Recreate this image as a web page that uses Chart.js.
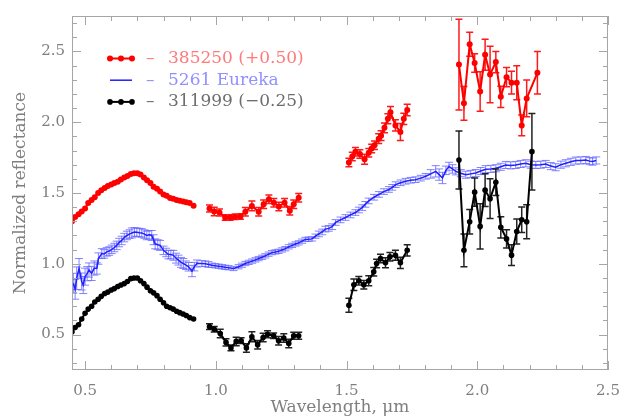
<!DOCTYPE html>
<html>
<head>
<meta charset="utf-8">
<script src="https://cdn.jsdelivr.net/npm/chart.js@4"></script>
<style>
  html, body { margin: 0; padding: 0; background: #fff; }
</style>
</head>
<body>
<canvas id="spectra" width="632" height="419"></canvas>
<script>
// tick labels
const xTicks = [0.5, 1.0, 1.5, 2.0, 2.5];
const yTicks = [0.5, 1.0, 1.5, 2.0, 2.5];

// 385250 (offset +0.50); null marks the gaps between spectral segments
const wl385250 = [
  0.450, 0.462, 0.475, 0.487, 0.500, 0.512, 0.525, 0.537, 0.550, 0.562,
  0.575, 0.587, 0.600, 0.612, 0.625, 0.637, 0.650, 0.662, 0.675, 0.687,
  0.700, 0.712, 0.725, 0.737, 0.750, 0.762, 0.775, 0.787, 0.800, 0.812,
  0.825, 0.837, 0.850, 0.862, 0.875, 0.887, 0.900, 0.915,
  0.945,
  0.976, 0.994, 1.014, 1.036, 1.055, 1.074, 1.094, 1.113, 1.138, 1.164,
  1.183, 1.203, 1.222, 1.241, 1.263, 1.283, 1.298, 1.317,
  1.410,
  1.509, 1.522, 1.534, 1.551, 1.569, 1.585, 1.596, 1.607, 1.623, 1.632,
  1.645, 1.658, 1.668, 1.687, 1.706, 1.719, 1.732,
  1.830,
  1.930, 1.949, 1.971, 1.990, 2.011, 2.030, 2.049, 2.071, 2.090, 2.112,
  2.131, 2.151, 2.170, 2.189, 2.230
];
const r385250 = [
  1.30, 1.33, 1.35, 1.37, 1.39, 1.43, 1.45, 1.47, 1.50, 1.52,
  1.535, 1.55, 1.56, 1.57, 1.58, 1.595, 1.61, 1.62, 1.635, 1.64,
  1.64, 1.63, 1.61, 1.59, 1.57, 1.545, 1.53, 1.51, 1.49, 1.48,
  1.465, 1.46, 1.45, 1.445, 1.44, 1.435, 1.43, 1.41,
  null,
  1.390, 1.369, 1.362, 1.327, 1.327, 1.332, 1.334, 1.367, 1.409, 1.367,
  1.420, 1.455, 1.432, 1.404, 1.432, 1.374, 1.420, 1.467,
  null,
  1.715, 1.757, 1.792, 1.775, 1.738, 1.785, 1.815, 1.838, 1.884, 1.905,
  1.960, 2.024, 2.070, 1.977, 1.931, 2.024, 2.086,
  null,
  2.407, 2.133, 2.551, 2.418, 2.217, 2.476, 2.337, 2.425, 2.179, 2.318,
  2.279, 2.279, 1.977, 2.168, 2.349
];
const e385250 = [
  0, 0, 0, 0, 0, 0, 0, 0, 0, 0,
  0, 0, 0, 0, 0, 0, 0, 0, 0, 0,
  0, 0, 0, 0, 0, 0, 0, 0, 0, 0,
  0, 0, 0, 0, 0, 0, 0, 0,
  null,
  0.025, 0.03, 0.025, 0.02, 0.02, 0.02, 0.02, 0.03, 0.035, 0.03,
  0.03, 0.03, 0.03, 0.03, 0.03, 0.03, 0.03, 0.03,
  null,
  0.03, 0.03, 0.03, 0.03, 0.035, 0.03, 0.03, 0.03, 0.035, 0.035,
  0.035, 0.035, 0.04, 0.04, 0.06, 0.04, 0.04,
  null,
  0.32, 0.12, 0.085, 0.066, 0.14, 0.11, 0.20, 0.075, 0.075, 0.068,
  0.08, 0.12, 0.073, 0.13, 0.15
];

// 5261 Eureka
const wlEureka = [
  0.455, 0.462, 0.468, 0.477, 0.487, 0.493, 0.500, 0.508, 0.515, 0.525,
  0.535, 0.545, 0.551, 0.564, 0.573, 0.583, 0.592, 0.602, 0.612, 0.621,
  0.630, 0.640, 0.650, 0.660, 0.670, 0.679, 0.689, 0.698, 0.708, 0.717,
  0.727, 0.736, 0.745, 0.755, 0.762, 0.768, 0.778, 0.787, 0.800, 0.810,
  0.819, 0.828, 0.838, 0.848, 0.857, 0.867, 0.876, 0.886, 0.896, 0.909,
  0.918, 0.928, 0.947, 0.960, 0.972, 0.985, 0.998, 1.011, 1.024, 1.036,
  1.049, 1.068, 1.087, 1.100, 1.113, 1.126, 1.139, 1.152, 1.164, 1.177,
  1.189, 1.202, 1.215, 1.228, 1.240, 1.253, 1.266, 1.279, 1.292, 1.305,
  1.317, 1.330, 1.343, 1.355, 1.368, 1.381, 1.394, 1.407, 1.419, 1.432,
  1.445, 1.458, 1.477, 1.496, 1.515, 1.534, 1.547, 1.560, 1.572, 1.585,
  1.605, 1.624, 1.643, 1.662, 1.675, 1.688, 1.707, 1.726, 1.745, 1.764,
  1.784, 1.803, 1.822, 1.841, 1.854, 1.867, 1.880, 1.892, 1.905, 1.918,
  1.937, 1.956, 1.975, 1.994, 2.013, 2.032, 2.052, 2.071, 2.090, 2.109,
  2.128, 2.147, 2.166, 2.186, 2.205, 2.224, 2.243, 2.262, 2.281, 2.300,
  2.320, 2.339, 2.358, 2.377, 2.396, 2.415, 2.430, 2.441, 2.455
];
const rEureka = [
  0.863, 0.820, 0.898, 0.967, 0.875, 0.850, 0.909, 0.930, 0.956, 0.932,
  0.970, 0.967, 1.037, 1.072, 1.070, 1.084, 1.090, 1.102, 1.115, 1.130,
  1.150, 1.165, 1.185, 1.200, 1.210, 1.218, 1.225, 1.223, 1.220, 1.218,
  1.210, 1.200, 1.205, 1.200, 1.170, 1.141, 1.135, 1.130, 1.095, 1.080,
  1.065, 1.065, 1.060, 1.040, 1.026, 1.010, 1.002, 0.990, 0.979, 0.949,
  0.980, 1.002, 1.002, 1.000, 0.995, 0.990, 0.986, 0.983, 0.979, 0.975,
  0.972, 0.967, 0.979, 0.990, 1.002, 1.010, 1.019, 1.028, 1.037, 1.046,
  1.056, 1.068, 1.079, 1.084, 1.088, 1.098, 1.107, 1.120, 1.130, 1.140,
  1.148, 1.160, 1.172, 1.174, 1.176, 1.195, 1.211, 1.225, 1.245, 1.250,
  1.262, 1.292, 1.310, 1.327, 1.345, 1.362, 1.380, 1.397, 1.420, 1.444,
  1.470, 1.490, 1.510, 1.525, 1.540, 1.559, 1.572, 1.583, 1.590, 1.594,
  1.605, 1.618, 1.635, 1.653, 1.630, 1.606, 1.660, 1.687, 1.670, 1.653,
  1.640, 1.629, 1.635, 1.641, 1.655, 1.668, 1.670, 1.675, 1.685, 1.698,
  1.695, 1.698, 1.705, 1.710, 1.700, 1.698, 1.700, 1.705, 1.690, 1.682,
  1.700, 1.710, 1.720, 1.729, 1.730, 1.733, 1.725, 1.722, 1.730
];
const eEureka = [
  0.07, 0.07, 0.08, 0.07, 0.06, 0.06, 0.06, 0.05, 0.05, 0.05,
  0.05, 0.04, 0.04, 0.035, 0.03, 0.03, 0.03, 0.03, 0.03, 0.03,
  0.03, 0.03, 0.03, 0.03, 0.03, 0.035, 0.03, 0.03, 0.03, 0.03,
  0.03, 0.03, 0.03, 0.035, 0.035, 0.035, 0.035, 0.035, 0.03, 0.03,
  0.03, 0.03, 0.035, 0.035, 0.035, 0.035, 0.035, 0.03, 0.03, 0.04,
  0.03, 0.025, 0.02, 0.02, 0.02, 0.015, 0.015, 0.015, 0.015, 0.015,
  0.015, 0.015, 0.015, 0.015, 0.015, 0.015, 0.015, 0.015, 0.015, 0.015,
  0.015, 0.015, 0.015, 0.015, 0.015, 0.015, 0.015, 0.015, 0.015, 0.015,
  0.015, 0.015, 0.015, 0.015, 0.015, 0.015, 0.02, 0.02, 0.02, 0.02,
  0.02, 0.02, 0.02, 0.02, 0.02, 0.02, 0.02, 0.02, 0.02, 0.02,
  0.02, 0.02, 0.02, 0.02, 0.02, 0.02, 0.02, 0.02, 0.02, 0.02,
  0.02, 0.02, 0.03, 0.04, 0.04, 0.04, 0.03, 0.03, 0.03, 0.025,
  0.025, 0.025, 0.025, 0.025, 0.025, 0.025, 0.025, 0.025, 0.025, 0.025,
  0.025, 0.025, 0.025, 0.025, 0.025, 0.025, 0.025, 0.025, 0.025, 0.025,
  0.025, 0.025, 0.025, 0.025, 0.025, 0.025, 0.025, 0.025, 0.025
];

// 311999 (offset -0.25)
const wl311999 = [
  0.450, 0.462, 0.475, 0.487, 0.500, 0.512, 0.525, 0.537, 0.550, 0.562,
  0.575, 0.587, 0.600, 0.612, 0.625, 0.637, 0.650, 0.662, 0.675, 0.687,
  0.700, 0.712, 0.725, 0.737, 0.750, 0.762, 0.775, 0.787, 0.800, 0.812,
  0.825, 0.837, 0.850, 0.862, 0.875, 0.887, 0.900, 0.915,
  0.945,
  0.976, 0.994, 1.017, 1.039, 1.058, 1.078, 1.097, 1.117, 1.138, 1.160,
  1.181, 1.198, 1.221, 1.240, 1.260, 1.279, 1.298, 1.317,
  1.410,
  1.509, 1.528, 1.547, 1.566, 1.585, 1.604, 1.615, 1.630, 1.649, 1.666,
  1.687, 1.706, 1.732,
  1.830,
  1.930, 1.949, 1.971, 1.990, 2.011, 2.030, 2.049, 2.071, 2.090, 2.112,
  2.131, 2.151, 2.170, 2.189, 2.209
];
const r311999 = [
  0.52, 0.55, 0.57, 0.61, 0.65, 0.68, 0.70, 0.73, 0.75, 0.77,
  0.79, 0.80, 0.815, 0.825, 0.84, 0.85, 0.86, 0.875, 0.895, 0.90,
  0.90, 0.88, 0.86, 0.835, 0.81, 0.795, 0.775, 0.75, 0.725, 0.70,
  0.69, 0.68, 0.665, 0.655, 0.645, 0.635, 0.62, 0.61,
  null,
  0.556, 0.538, 0.508, 0.445, 0.406, 0.452, 0.457, 0.406, 0.485, 0.429,
  0.480, 0.503, 0.492, 0.457, 0.476, 0.438, 0.492, 0.492,
  null,
  0.707, 0.852, 0.880, 0.852, 0.880, 0.944, 1.002, 1.037, 1.007, 1.049,
  1.060, 1.007, 1.095,
  null,
  1.733, 1.095, 1.297, 1.506, 1.264, 1.520, 1.460, 1.576, 1.258, 1.176,
  1.061, 1.228, 1.311, 1.297, 1.792
];
const e311999 = [
  0, 0, 0, 0, 0, 0, 0, 0, 0, 0,
  0, 0, 0, 0, 0, 0, 0, 0, 0, 0,
  0, 0, 0, 0, 0, 0, 0, 0, 0, 0,
  0, 0, 0, 0, 0, 0, 0, 0,
  null,
  0.02, 0.02, 0.03, 0.025, 0.02, 0.03, 0.02, 0.03, 0.035, 0.03,
  0.03, 0.025, 0.02, 0.03, 0.03, 0.03, 0.025, 0.025,
  null,
  0.05, 0.04, 0.03, 0.03, 0.035, 0.03, 0.03, 0.03, 0.035, 0.03,
  0.035, 0.04, 0.04,
  null,
  0.205, 0.115, 0.087, 0.10, 0.16, 0.116, 0.14, 0.093, 0.075, 0.064,
  0.073, 0.088, 0.09, 0.12, 0.27
];

const FONT = "'DejaVu Serif', serif";
const GREY = '#7f7f7f';

function toPoints(wl, refl) {
  return wl.map((w, i) => ({ x: w, y: refl[i] }));
}

// vertical error bars with caps, drawn just before each dataset
const errorBars = {
  id: 'errorBars',
  beforeDatasetDraw(chart, args) {
    const ds = chart.data.datasets[args.index];
    if (!ds.errors) return;
    const { ctx, chartArea: a, scales: { x, y } } = chart;
    ctx.save();
    ctx.beginPath();
    ctx.rect(a.left, a.top, a.right - a.left, a.bottom - a.top);
    ctx.clip();
    ctx.strokeStyle = ds.errorColor;
    ctx.lineWidth = ds.errorWidth;
    ctx.beginPath();
    ds.data.forEach((p, i) => {
      const e = ds.errors[i];
      if (p.y == null || !e) return;
      const px = x.getPixelForValue(p.x);
      const y0 = y.getPixelForValue(p.y - e);
      const y1 = y.getPixelForValue(p.y + e);
      const c = ds.capHalf;
      ctx.moveTo(px, y0); ctx.lineTo(px, y1);
      ctx.moveTo(px - c, y0); ctx.lineTo(px + c, y0);
      ctx.moveTo(px - c, y1); ctx.lineTo(px + c, y1);
    });
    ctx.stroke();
    ctx.restore();
  }
};

// box with inward ticks on all four sides
const frame = {
  id: 'frame',
  afterDatasetsDraw(chart) {
    const { ctx, chartArea: a, scales: { x, y } } = chart;
    ctx.save();
    ctx.strokeStyle = '#a6a6a6';
    ctx.lineWidth = 1;
    ctx.strokeRect(a.left + 0.5, a.top + 0.5, a.right - a.left - 1, a.bottom - a.top - 1);
    ctx.beginPath();
    for (let k = 5; k <= 25; k++) {
      const len = k % 5 === 0 ? 9 : 5;
      const px = Math.round(x.getPixelForValue(k / 10)) + 0.5;
      ctx.moveTo(px, a.bottom); ctx.lineTo(px, a.bottom - len);
      ctx.moveTo(px, a.top); ctx.lineTo(px, a.top + len);
    }
    for (let k = 3; k <= 27; k++) {
      const len = k % 5 === 0 ? 9 : 5;
      const py = Math.round(y.getPixelForValue(k / 10)) + 0.5;
      ctx.moveTo(a.left, py); ctx.lineTo(a.left + len, py);
      ctx.moveTo(a.right, py); ctx.lineTo(a.right - len, py);
    }
    ctx.stroke();
    ctx.restore();
  }
};

// legend inside the plot, top left
const insideLegend = {
  id: 'insideLegend',
  afterDraw(chart) {
    const { ctx, chartArea: a } = chart;
    ctx.save();
    ctx.font = '17px ' + FONT;
    ctx.textBaseline = 'middle';
    chart.data.datasets.forEach((ds, i) => {
      const yy = a.top + 42.5 + i * 21.7;
      const x0 = a.left + 38, x1 = a.left + 60;
      ctx.strokeStyle = ds.borderColor;
      ctx.lineWidth = ds.borderWidth;
      ctx.beginPath(); ctx.moveTo(x0, yy); ctx.lineTo(x1, yy); ctx.stroke();
      if (ds.pointRadius > 0) {
        ctx.fillStyle = ds.borderColor;
        [x0, (x0 + x1) / 2, x1].forEach(cx => {
          ctx.beginPath(); ctx.arc(cx, yy, ds.pointRadius, 0, Math.PI * 2); ctx.fill();
        });
      }
      ctx.fillStyle = ds.legendColor;
      ctx.fillText('\u2013', a.left + 74, yy);
      ctx.fillText(ds.label, a.left + 96, yy);
    });
    ctx.restore();
  }
};

const ctx = document.getElementById('spectra').getContext('2d');
new Chart(ctx, {
  type: 'line',
  data: {
    datasets: [
      {
        label: '385250 (+0.50)',
        data: toPoints(wl385250, r385250),
        errors: e385250,
        borderColor: '#ff0000',
        backgroundColor: '#ff0000',
        borderWidth: 2,
        pointRadius: 3,
        pointBorderWidth: 0,
        errorColor: '#ff1a1a',
        errorWidth: 1.5,
        capHalf: 3.5,
        legendColor: '#ff7a7a',
        order: 1
      },
      {
        label: '5261 Eureka',
        data: toPoints(wlEureka, rEureka),
        errors: eEureka,
        borderColor: '#1f1fff',
        backgroundColor: '#1f1fff',
        borderWidth: 1.5,
        pointRadius: 0,
        errorColor: 'rgba(100,100,255,0.8)',
        errorWidth: 1,
        capHalf: 4,
        legendColor: '#9090ff',
        order: 3
      },
      {
        label: '311999 (\u22120.25)',
        data: toPoints(wl311999, r311999),
        errors: e311999,
        borderColor: '#000000',
        backgroundColor: '#000000',
        borderWidth: 2,
        pointRadius: 2.8,
        pointBorderWidth: 0,
        errorColor: '#222222',
        errorWidth: 1.5,
        capHalf: 3.5,
        legendColor: '#6e6e6e',
        order: 2
      }
    ]
  },
  options: {
    responsive: false,
    animation: false,
    spanGaps: false,
    layout: { padding: { top: 11, right: 24, left: 0, bottom: 0 } },
    plugins: {
      legend: { display: false },
      tooltip: { enabled: false }
    },
    scales: {
      x: {
        type: 'linear',
        min: 0.45,
        max: 2.5,
        afterBuildTicks: s => { s.ticks = xTicks.map(v => ({ value: v })); },
        afterFit: s => { s.height = 49; },
        grid: { display: false, drawTicks: false },
        border: { display: false },
        ticks: {
          callback: v => v.toFixed(1),
          font: { family: FONT, size: 15 },
          color: GREY,
          padding: 12,
          maxRotation: 0,
          autoSkip: false
        },
        title: {
          display: true,
          text: 'Wavelength, \u03bcm',
          font: { family: FONT, size: 17 },
          color: GREY,
          padding: { top: 0, bottom: 1 }
        }
      },
      y: {
        type: 'linear',
        min: 0.25,
        max: 2.75,
        afterBuildTicks: s => { s.ticks = yTicks.map(v => ({ value: v })); },
        afterFit: s => { s.width = 72; },
        grid: { display: false, drawTicks: false },
        border: { display: false },
        ticks: {
          callback: v => v.toFixed(1),
          font: { family: FONT, size: 15 },
          color: GREY,
          padding: 7,
          autoSkip: false
        },
        title: {
          display: true,
          text: 'Normalized reflectance',
          font: { family: FONT, size: 17 },
          color: GREY,
          padding: { top: 10, bottom: 0 }
        }
      }
    }
  },
  plugins: [errorBars, frame, insideLegend]
});
</script>
</body>
</html>
